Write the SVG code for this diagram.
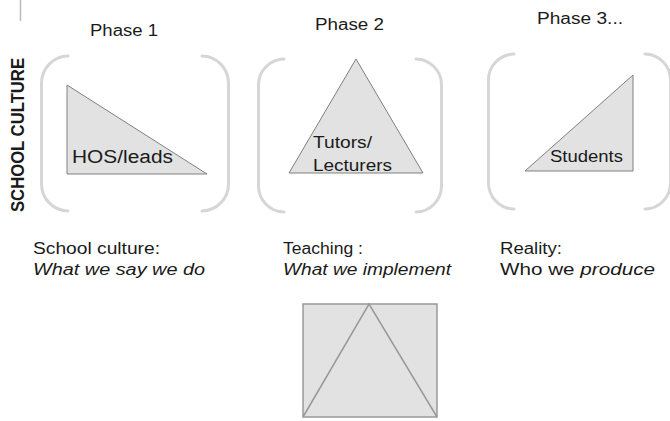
<svg xmlns="http://www.w3.org/2000/svg" width="670" height="421" viewBox="0 0 670 421">
<style>
.t{font-family:"Liberation Sans",Arial,sans-serif;fill:#1a1a1a;}
.br{fill:none;stroke:#d6d6d6;stroke-width:3;stroke-linecap:round;}
.tri{fill:#e2e2e2;stroke:#808080;stroke-width:1;}
</style>
<rect width="670" height="421" fill="#fff"/>
<line x1="20.5" y1="0" x2="20.5" y2="21" stroke="#bbb" stroke-width="1.5"/>
<text class="t" x="17" y="135" font-size="19" font-weight="bold" text-anchor="middle" transform="rotate(-90 17 135)" dy="7" textLength="154" lengthAdjust="spacingAndGlyphs">SCHOOL CULTURE</text>
<g id="phase1">
<text class="t" x="90" y="36" font-size="16" textLength="68" lengthAdjust="spacingAndGlyphs">Phase 1</text>
<path class="br" d="M68,56 A27,27 0 0 0 41.5,83 L41.5,184 A27,27 0 0 0 68,211"/>
<path class="br" d="M202,56 A27,27 0 0 1 228.5,83 L228.5,184 A27,27 0 0 1 202,211"/>
<polygon class="tri" points="67,85 67,174 207,174"/>
<text class="t" x="72" y="163" font-size="18" textLength="101" lengthAdjust="spacingAndGlyphs">HOS/leads</text>
</g>
<g id="phase2">
<text class="t" x="315" y="30" font-size="16" textLength="69" lengthAdjust="spacingAndGlyphs">Phase 2</text>
<path class="br" d="M284,59 A26,26 0 0 0 258.5,85 L258.5,186 A26,26 0 0 0 284,212"/>
<path class="br" d="M416,59 A26,26 0 0 1 441.5,85 L441.5,186 A26,26 0 0 1 416,212"/>
<polygon class="tri" points="356,59 289,173 423,173"/>
<text class="t" x="313" y="148" font-size="16" textLength="59" lengthAdjust="spacingAndGlyphs">Tutors/</text>
<text class="t" x="313" y="171" font-size="16" textLength="79" lengthAdjust="spacingAndGlyphs">Lecturers</text>
</g>
<g id="phase3">
<text class="t" x="537" y="24" font-size="16" textLength="86" lengthAdjust="spacingAndGlyphs">Phase 3...</text>
<path class="br" d="M514,54 A26,26 0 0 0 488.5,80 L488.5,183 A26,26 0 0 0 514,209"/>
<path class="br" d="M645,54 A26,26 0 0 1 670.5,80 L670.5,183 A26,26 0 0 1 645,209"/>
<polygon class="tri" points="525,171 633,75 633,171"/>
<text class="t" x="550" y="162" font-size="16" textLength="73" lengthAdjust="spacingAndGlyphs">Students</text>
</g>
<g id="captions">
<text class="t" x="33" y="254" font-size="16" textLength="127" lengthAdjust="spacingAndGlyphs">School culture:</text>
<text class="t" x="33" y="275" font-size="16" font-style="italic" textLength="172" lengthAdjust="spacingAndGlyphs">What we say we do</text>
<text class="t" x="283" y="254" font-size="16" textLength="80" lengthAdjust="spacingAndGlyphs">Teaching :</text>
<text class="t" x="283" y="275" font-size="16" font-style="italic" textLength="168" lengthAdjust="spacingAndGlyphs">What we implement</text>
<text class="t" x="500" y="254" font-size="16" textLength="62" lengthAdjust="spacingAndGlyphs">Reality:</text>
<text class="t" x="500" y="275" font-size="16" textLength="155" lengthAdjust="spacingAndGlyphs">Who we <tspan font-style="italic">produce</tspan></text>
</g>
<g id="bottom">
<rect x="303" y="304" width="134" height="113" fill="#e2e2e2" stroke="#999" stroke-width="1.5"/>
<polyline points="303,417 369,304 437,417" fill="none" stroke="#999" stroke-width="1.5"/>
</g>
</svg>
